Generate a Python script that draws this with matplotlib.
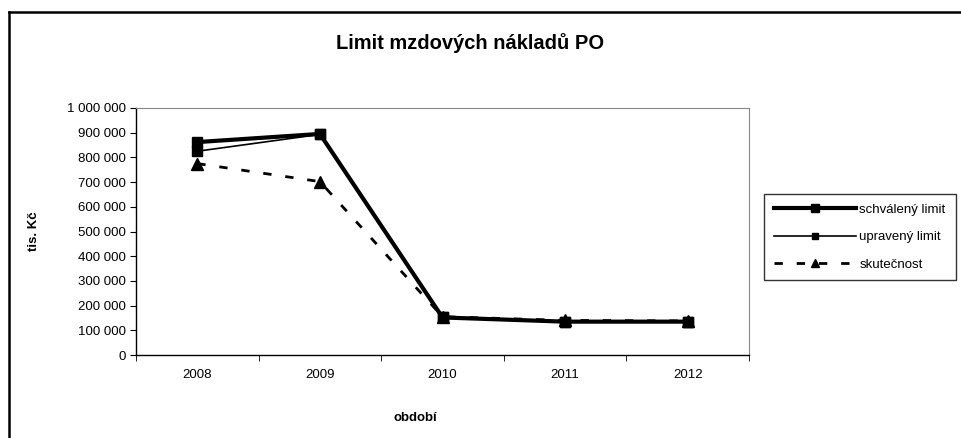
import numpy as np
import matplotlib.pyplot as plt
from matplotlib.lines import Line2D

plt.rcParams['font.family'] = ['Liberation Sans', 'DejaVu Sans']

years = ['2008', '2009', '2010', '2011', '2012']
schvaleny = [862000, 895000, 152000, 135000, 135000]
upraveny = [825000, 893000, 152000, 135000, 135000]
skutecnost = [775000, 702000, 155000, 140000, 138000]
yticks = np.arange(0, 1000001, 100000)

W, H = 962, 438
fig = plt.figure(figsize=(W / 100, H / 100), dpi=100)
ax = fig.add_axes([136 / W, 1 - 355 / H, (749 - 136) / W, (355 - 108) / H])

x = np.arange(1, len(years) + 1)
ax.plot(x, schvaleny, color='black', lw=3, marker='s', ms=7.5, label='schválený limit')
ax.plot(x, upraveny, color='black', lw=1.2, marker='s', ms=7, label='upravený limit')
ax.plot(x, skutecnost, color='black', lw=2, ls=(0, (3, 5)), marker='^', ms=9,
        label='skutečnost')

ax.set_xlim(0.5, 5.5)
ax.set_ylim(0, 1000000)
ax.set_yticks(yticks)
ax.set_yticklabels([f'{int(v):,}'.replace(',', ' ') for v in yticks])
ax.set_xticks(x)
ax.set_xticklabels(years)
ax.set_xticks(np.arange(0.5, 5.6, 1), minor=True)
ax.tick_params(axis='x', which='major', length=0, labelsize=9.5, pad=10)
ax.tick_params(axis='x', which='minor', length=4, direction='out', color='black')
ax.tick_params(axis='y', length=4, direction='out', labelsize=9.5, pad=3)
for s in ['top', 'right']:
    ax.spines[s].set_color('#888888')
    ax.spines[s].set_linewidth(0.8)
for s in ['left', 'bottom']:
    ax.spines[s].set_color('black')
    ax.spines[s].set_linewidth(1)

ax.set_xlabel('období', fontsize=9.5, fontweight='bold')
ax.xaxis.set_label_coords((415 - 136) / 613, -(412 - 355) / 247)
ax.set_ylabel('tis. Kč', fontsize=9.5, fontweight='bold')
ax.yaxis.set_label_coords(-(136 - 40) / 613, 0.5)

fig.text(470 / W, 1 - 43 / H, 'Limit mzdových nákladů PO', fontsize=14.5,
         fontweight='bold', ha='center', va='center')

leg = fig.legend(loc='center', bbox_to_anchor=(860 / W, 1 - 237 / H), fontsize=9.5,
                 frameon=True, fancybox=False, edgecolor='black', handlelength=6.2,
                 borderpad=0.75, labelspacing=1.15, handletextpad=0.25,
                 borderaxespad=0, markerscale=0.7)
leg.get_frame().set_linewidth(1)

# chart frame: only left and top edges are visible in the picture
fig.add_artist(Line2D([9 / W, 9 / W], [0, 1 - 12 / H], color='black', lw=1.8))
fig.add_artist(Line2D([9 / W, 1], [1 - 12 / H, 1 - 12 / H], color='black', lw=1.8))

fig.savefig('out.png', dpi=100)
